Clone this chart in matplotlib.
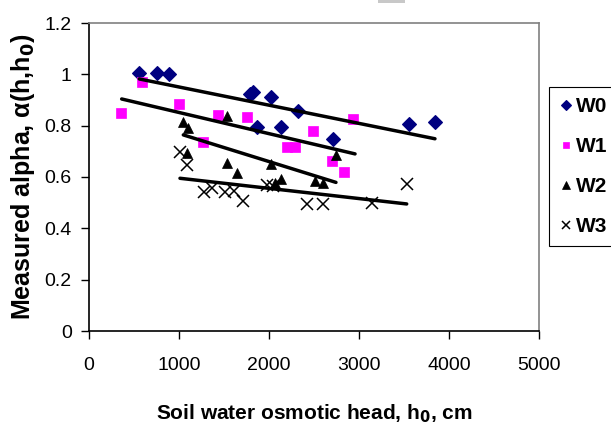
import matplotlib
matplotlib.use('Agg')
import matplotlib.pyplot as plt
from matplotlib.patches import Rectangle

plt.rcParams['font.family'] = ['Liberation Sans', 'DejaVu Sans']

# Measured points (osmotic head h0 in cm, alpha)
w0_x = [559, 752, 889, 1789, 1819, 2026, 2322, 1870, 2130, 2707, 3559, 3844]
w0_y = [1.006, 1.006, 1.0, 0.922, 0.932, 0.91, 0.858, 0.794, 0.794, 0.749, 0.806, 0.814]

w1_x = [356, 585, 1003, 1437, 1756, 1270, 2485, 2196, 2285, 2937, 2696, 2837]
w1_y = [0.848, 0.971, 0.884, 0.840, 0.832, 0.737, 0.780, 0.718, 0.718, 0.827, 0.663, 0.621]

w2_x = [1048, 1096, 1537, 1085, 1537, 1641, 2026, 2067, 2133, 2515, 2604, 2741]
w2_y = [0.815, 0.79, 0.838, 0.695, 0.656, 0.614, 0.651, 0.578, 0.591, 0.584, 0.578, 0.684]

w3_x = [1011, 1085, 1278, 1363, 1515, 1615, 1715, 1974, 2041, 2426, 2604, 3144, 3530]
w3_y = [0.699, 0.647, 0.543, 0.558, 0.543, 0.545, 0.506, 0.569, 0.565, 0.494, 0.494, 0.500, 0.573]

# Trend line end points for each treatment
w0_fit_x, w0_fit_y = [559, 3844], [0.982, 0.749]
w1_fit_x, w1_fit_y = [363, 2956], [0.904, 0.690]
w2_fit_x, w2_fit_y = [1048, 2744], [0.764, 0.579]
w3_fit_x, w3_fit_y = [1011, 3530], [0.595, 0.495]

fig = plt.figure(figsize=(6.11, 4.28), dpi=100)
ax = fig.add_axes([89 / 611, 1 - 331 / 428, 450 / 611, 308 / 428])

ax.plot(w0_x, w0_y, 'D', color='#000080', ms=7.2, mew=0.8, ls='none', label='W0')
ax.plot(w1_x, w1_y, 's', color='#FF00FF', ms=6.8, mew=0.5, ls='none', label='W1')
ax.plot(w2_x, w2_y, '^', color='black', ms=7.8, mew=0.5, ls='none', label='W2')
ax.plot(w3_x, w3_y, 'x', color='black', ms=8.5, mew=1.1, ls='none', label='W3')

for fx, fy in [(w0_fit_x, w0_fit_y), (w1_fit_x, w1_fit_y),
               (w2_fit_x, w2_fit_y), (w3_fit_x, w3_fit_y)]:
    ax.plot(fx, fy, '-', color='black', lw=2.5, solid_capstyle='round')

ax.set_xlim(0, 5000)
ax.set_ylim(0, 1.2)
ax.set_xticks([0, 1000, 2000, 3000, 4000, 5000])
ax.set_yticks([0, 0.2, 0.4, 0.6, 0.8, 1.0, 1.2])
ax.set_yticklabels(['0', '0.2', '0.4', '0.6', '0.8', '1', '1.2'])
ax.tick_params(direction='out', length=5.5, width=1, labelsize=14)
ax.tick_params(axis='x', pad=13.5)
ax.tick_params(axis='y', pad=7)

for side in ['top', 'right']:
    ax.spines[side].set_color('#808080')
    ax.spines[side].set_linewidth(1.2)
for side in ['left', 'bottom']:
    ax.spines[side].set_color('black')
    ax.spines[side].set_linewidth(1.2)

ax.set_xlabel('Soil water osmotic head, h$_\\mathbf{0}$, cm', fontsize=15,
              fontweight='bold', labelpad=20)
ax.set_ylabel('Measured alpha, α(h,h$_\\mathbf{0}$)', fontsize=18,
              fontweight='bold', labelpad=5)

leg = fig.legend(loc='upper left', bbox_to_anchor=(549 / 611, 1 - 87 / 428),
                 fancybox=False, framealpha=1, edgecolor='black',
                 prop={'weight': 'bold', 'size': 15}, handlelength=0.6,
                 handletextpad=0.2, labelspacing=1.0, borderpad=0.5,
                 markerscale=0.72, borderaxespad=0)
leg.get_frame().set_linewidth(0.8)

# small grey tab at the top edge
fig.patches.append(Rectangle((378 / 611, 1 - 3 / 428), 27 / 611, 3 / 428,
                             transform=fig.transFigure, facecolor='#c8c8c8',
                             linewidth=0))

plt.savefig('out.png', dpi=100)
